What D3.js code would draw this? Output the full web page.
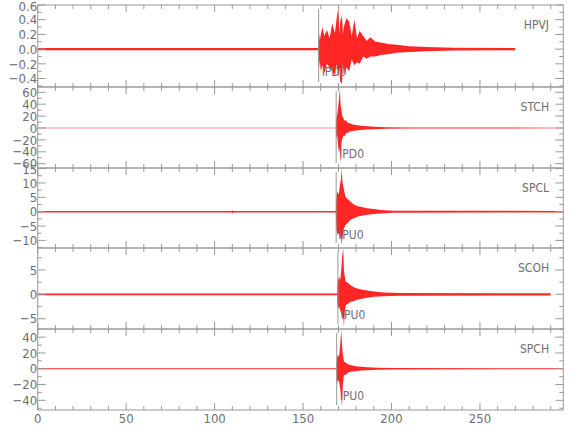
<!DOCTYPE html>
<html>
<head>
<meta charset="utf-8">
<script src="https://cdn.jsdelivr.net/npm/d3@7"></script>
<style>
body{margin:0;background:#fff}
svg{display:block}
text{font-family:"Liberation Sans Narrow","DejaVu Sans Condensed",sans-serif;fill:#6e6e6e}
</style>
</head>
<body>
<script>
// station names, picks and y ranges
const stations = ["HPVJ","STCH","SPCL","SCOH","SPCH"]
const phases = ["IPD0","IPD0","IPU0","IPU0","IPU0"]
const pickTimes = [158.8, 168.7, 168.7, 169.7, 169.0]
const yDomains = [[-0.515,0.6],[-67.2,68.9],[-12.65,15.2],[-7.1,9.5],[-52.2,50.3]]
const yMajor = [0.2, 20, 5, 5, 20]
const yMinor = [0.1, 10, 2.5, 2.5, 10]
const xDomain = [0, 297.1]
const xTicks = [0,50,100,150,200,250]

// envelope of each trace: time, upper, lower
const hpvjT  = [0,158.5,158.9,159.5,160,161,162,163.5,165,166.5,168,169,170,170.5,171,172,172.5,173,174.5,176,177.5,179,180.5,182,184,186,188,191,194,198,203,210,220,235,270]
const hpvjHi = [0.015,0.015,0.25,0.12,0.2,0.3,0.18,0.26,0.15,0.35,0.22,0.42,0.57,0.2,0.38,0.45,0.2,0.3,0.42,0.38,0.18,0.4,0.15,0.25,0.18,0.11,0.16,0.1,0.09,0.07,0.06,0.04,0.03,0.02,0.015]
const hpvjLo = [-0.015,-0.015,-0.28,-0.15,-0.3,-0.22,-0.33,-0.2,-0.25,-0.3,-0.36,-0.2,-0.38,-0.25,-0.44,-0.47,-0.2,-0.35,-0.25,-0.3,-0.14,-0.22,-0.18,-0.2,-0.1,-0.13,-0.1,-0.1,-0.08,-0.07,-0.05,-0.04,-0.03,-0.02,-0.015]

const stchT  = [0,168.5,168.8,169.3,169.8,170.3,170.8,171.2,171.7,172.2,172.8,173.5,174.2,175.2,176.5,178,180,182.5,186,190,197,210,297]
const stchHi = [0.6,0.6,15,22,35,48,67,40,30,20,16,12,13,9,8,6,5,4,3,2,1.2,0.8,0.6]
const stchLo = [-0.6,-0.6,-18,-12,-30,-42,-35,-61,-25,-18,-13,-14,-9,-8,-6,-5,-4,-3.5,-2.5,-2,-1.2,-0.8,-0.6]

const spclT  = [0,109.5,110,110.5,168.5,168.8,169.5,170.2,170.8,171.4,171.8,172.3,172.7,173.3,174,175,176.8,178.5,180.6,183,186.3,190,194,201,297]
const spclHi = [0.25,0.25,0.5,0.25,0.25,5,7,6,9.3,11,14.9,10,9,7,5.2,4.5,3.5,2.6,2,1.6,1.2,0.9,0.6,0.35,0.25]
const spclLo = [-0.25,-0.25,-0.5,-0.25,-0.25,-6,-8,-7.5,-9.9,-8,-11.6,-9,-7,-5.5,-4.6,-4,-2.9,-2.4,-1.8,-1.4,-1.1,-0.8,-0.6,-0.35,-0.25]

const scohT  = [0,169.2,169.5,170.2,171,171.6,172.1,172.7,173.1,173.6,174.2,175.3,176.8,178.5,180.6,183,186.3,190,195.6,205,290]
const scohHi = [0.2,0.2,2.5,3.6,3,5,7.8,9.4,5,3.5,2.6,2.4,1.9,1.5,1.2,1,0.8,0.6,0.4,0.3,0.22]
const scohLo = [-0.2,-0.2,-3,-2.5,-3.2,-4,-5,-4.5,-6.7,-3.5,-2.2,-2,-1.5,-1.4,-1.1,-0.9,-0.7,-0.5,-0.4,-0.3,-0.22]

const spchT  = [0,168.8,169.1,169.7,170.3,170.8,171.3,171.6,172,172.5,173.1,174,175.9,178,180.6,183,186.3,192,200,297]
const spchHi = [0.6,0.6,12,18,15,25,40,50,30,18,9.3,8,5,4,3,2.5,2,1.2,0.8,0.6]
const spchLo = [-0.6,-0.6,-20,-14,-16,-22,-30,-38,-48,-20,-7.6,-8,-4,-3.5,-3,-2.2,-1.8,-1.2,-0.8,-0.6]

const traces = [
  [hpvjT, hpvjHi, hpvjLo],
  [stchT, stchHi, stchLo],
  [spclT, spclHi, spclLo],
  [scohT, scohHi, scohLo],
  [spchT, spchHi, spchLo]
]

const W = 580, H = 440
const panelEdges = [5, 87, 168, 248, 329, 410]
const left = 37.7, right = 563.3

let svg = d3.select("body").append("svg").attr("width", W).attr("height", H)

let x = d3.scaleLinear().domain(xDomain).range([left, right])

/**
  returns ticks of a given step inside a domain
*/
function stepTicks(domain, step){
  let out = []
  let start = Math.ceil(domain[0]/step - 1e-9)
  let end = Math.floor(domain[1]/step + 1e-9)
  for(let i=start;i<=end;i++) out.push(+(i*step).toFixed(6))
  return out
}

function fmt(v, step){
  if(step < 1) return d3.format(".1f")(v).replace("-", "\u2212")
  return String(v).replace("-", "\u2212")
}

stations.forEach((name, i)=>{
  let top = panelEdges[i], bottom = panelEdges[i+1]
  let y = d3.scaleLinear().domain(yDomains[i]).range([bottom, top])
  let g = svg.append("g").attr("class","panel")

  // trace envelope
  let tr = traces[i]
  let pts = tr[0].map((t,k)=>({t:t, hi:tr[1][k], lo:tr[2][k]}))
  let area = d3.area().x(d=>x(d.t)).y0(d=>y(d.lo)).y1(d=>y(d.hi))
  g.append("path").datum(pts).attr("d", area)
    .attr("fill","#ff0000").attr("fill-opacity",0.85)

  // ticks on all four sides, pointing in
  stepTicks(xDomain, 10).forEach(t=>{
    let len = (t % 50 === 0) ? 7 : 4
    g.append("line").attr("x1", x(t)).attr("x2", x(t)).attr("y1", top).attr("y2", top+len)
      .attr("stroke","#999")
    g.append("line").attr("x1", x(t)).attr("x2", x(t)).attr("y1", bottom).attr("y2", bottom-len)
      .attr("stroke","#999")
  })
  let majors = stepTicks(yDomains[i], yMajor[i])
  stepTicks(yDomains[i], yMinor[i]).forEach(v=>{
    let isMajor = majors.some(m=>Math.abs(m-v)<1e-6)
    let len = isMajor ? 8 : 4
    g.append("line").attr("x1", left).attr("x2", left+len).attr("y1", y(v)).attr("y2", y(v))
      .attr("stroke","#999")
    g.append("line").attr("x1", right).attr("x2", right-len).attr("y1", y(v)).attr("y2", y(v))
      .attr("stroke","#999")
  })
  majors.forEach(v=>{
    g.append("text").attr("x", left-0.5).attr("y", Math.max(y(v), top+1.7)).attr("dy","0.36em")
      .attr("text-anchor","end").attr("font-size", 13)
      .text(fmt(v, yMajor[i]))
  })

  // station name
  g.append("text").attr("x", 549).attr("y", top+24).attr("text-anchor","end")
    .attr("font-size", 12).text(name)

  // phase pick line and label
  let px = x(pickTimes[i])
  g.append("line").attr("x1", px).attr("x2", px).attr("y1", top+4).attr("y2", bottom-5)
    .attr("stroke","#999")
  g.append("text").attr("x", px+3).attr("y", top+70.5).attr("font-size", 12).text(phases[i])

  // box
  g.append("rect").attr("x", left).attr("y", top).attr("width", right-left).attr("height", bottom-top)
    .attr("fill","none").attr("stroke","#999")
})

// time labels on the bottom panel
xTicks.forEach(t=>{
  svg.append("text").attr("x", x(t)).attr("y", 422.5).attr("text-anchor","middle")
    .attr("font-size", 13).text(t)
})
</script>
</body>
</html>
